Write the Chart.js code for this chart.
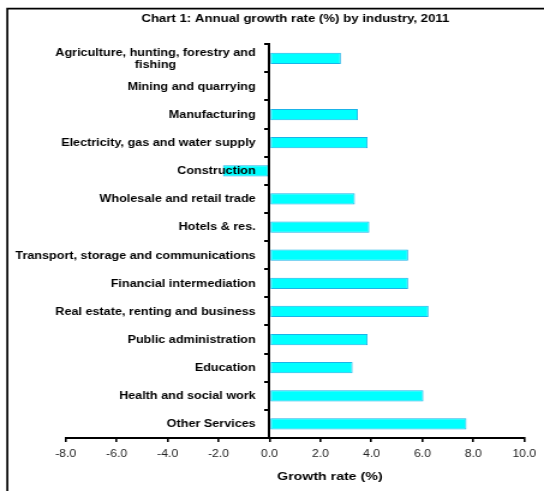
<!DOCTYPE html>
<html>
<head>
<meta charset="utf-8">
<title>Annual growth rate by industry, 2011</title>
<script src="https://cdn.jsdelivr.net/npm/chart.js@4.4.1/dist/chart.umd.min.js"></script>
<style>
  html, body { margin: 0; padding: 0; background: #ffffff; overflow: hidden; }
  #wrap { position: absolute; left: 0; top: 0; width: 544px; height: 491px; overflow: hidden; }
  /* the chart is laid out on a narrower canvas and widened horizontally */
  #chart { position: absolute; left: 0; top: 0; transform-origin: 0 0; transform: scaleX(1.20088); }
</style>
</head>
<body>
<div id="wrap"><canvas id="chart" width="453" height="491"></canvas></div>
<script>
const chartTitle = 'Chart 1: Annual growth rate (%) by industry, 2011';
const axisTitle = 'Growth rate (%)';

const industries = [
  ['Agriculture, hunting, forestry and', 'fishing'],
  'Mining and quarrying',
  'Manufacturing',
  'Electricity, gas and water supply',
  'Construction',
  'Wholesale and retail trade',
  'Hotels & res.',
  'Transport, storage and communications',
  'Financial intermediation',
  'Real estate, renting and business',
  'Public administration',
  'Education',
  'Health and social work',
  'Other Services'
];

const growthRate = [2.8, 0, 3.47, 3.85, -1.83, 3.35, 3.92, 5.44, 5.44, 6.24, 3.85, 3.26, 6.04, 7.73];

const xTickValues = [-8, -6, -4, -2, 0, 2, 4, 6, 8, 10];

const FONT = '"Liberation Sans", Arial, Helvetica, sans-serif';
const LABEL_FONT = { family: FONT, size: 10.5, weight: 'bold', lineHeight: 1.15 };
const LABEL_GAP = 11.5; // space between the zero axis and the right end of the category labels

// outer frame of the chart object (only its top and left edges fall inside the page)
const framePlugin = {
  id: 'frame',
  beforeDraw(chart) {
    const ctx = chart.ctx;
    ctx.save();
    ctx.strokeStyle = '#000';
    ctx.lineWidth = 1.7;
    ctx.beginPath();
    ctx.moveTo(6.1, chart.height + 5);
    ctx.lineTo(6.1, 8.7);
    ctx.lineTo(chart.width + 5, 8.7);
    ctx.stroke();
    ctx.restore();
  }
};

// category labels sit left of the zero axis, above the bars;
// wrapped labels have their lines centred on each other
const categoryLabelPlugin = {
  id: 'categoryLabels',
  afterDatasetsDraw(chart) {
    const yScale = chart.scales.y;
    const xScale = chart.scales.x;
    const font = Chart.helpers.toFont(LABEL_FONT);
    const ctx = chart.ctx;
    const right = xScale.getPixelForValue(0) - LABEL_GAP;
    ctx.save();
    ctx.font = font.string;
    ctx.fillStyle = '#000';
    ctx.textBaseline = 'middle';
    industries.forEach((label, i) => {
      const cy = yScale.getPixelForTick(i) + 0.5;
      if (Array.isArray(label)) {
        const widest = Math.max(...label.map(l => ctx.measureText(l).width));
        ctx.textAlign = 'center';
        label.forEach((l, k) => {
          ctx.fillText(l, right - widest / 2, cy + (k - (label.length - 1) / 2) * font.lineHeight);
        });
      } else {
        ctx.textAlign = 'right';
        ctx.fillText(label, right, cy);
      }
    });
    ctx.restore();
  }
};

// horizontal axis title
const axisTitlePlugin = {
  id: 'axisTitle',
  afterDraw(chart) {
    const xScale = chart.scales.x;
    const ctx = chart.ctx;
    ctx.save();
    ctx.font = 'bold 11.8px ' + FONT;
    ctx.fillStyle = '#000';
    ctx.textAlign = 'center';
    ctx.textBaseline = 'alphabetic';
    ctx.fillText(axisTitle, (xScale.left + xScale.right) / 2 + 29, xScale.top + 41.5);
    ctx.restore();
  }
};

new Chart(document.getElementById('chart'), {
  type: 'bar',
  data: {
    labels: industries,
    datasets: [{
      data: growthRate,
      backgroundColor: '#00FFFF',
      borderColor: '#1AB4E8',
      borderWidth: 1,
      borderSkipped: false,
      categoryPercentage: 1,
      barPercentage: 0.4
    }]
  },
  options: {
    indexAxis: 'y',
    responsive: false,
    animation: false,
    devicePixelRatio: 1,
    layout: { padding: { left: 54.7, right: 15.8, top: 0, bottom: 0 } },
    plugins: {
      legend: { display: false },
      tooltip: { enabled: false },
      title: {
        display: true,
        text: chartTitle,
        color: '#000',
        font: { family: FONT, size: 11, weight: 'bold' },
        padding: { top: 12.4, bottom: 18.6 }
      }
    },
    scales: {
      x: {
        type: 'linear',
        min: xTickValues[0],
        max: xTickValues[xTickValues.length - 1],
        afterBuildTicks: s => { s.ticks = xTickValues.map(v => ({ value: v })); },
        afterFit: s => { s.height = 53; },
        grid: { drawOnChartArea: false, drawTicks: true, tickLength: 4, color: '#000', lineWidth: 1.6 },
        border: { display: true, color: '#000', width: 2 },
        ticks: {
          callback: v => Number(v).toFixed(1),
          font: { family: FONT, size: 10.2 },
          color: '#222',
          padding: 6.5,
          maxRotation: 0,
          autoSkip: false
        }
      },
      y: {
        type: 'category',
        position: { x: 0 },
        offset: true,
        grid: { drawOnChartArea: false, offset: true, tickLength: 3, color: '#000', lineWidth: 2, z: 1 },
        border: { display: true, color: '#000', width: 2, z: 1 },
        ticks: { display: false, autoSkip: false }
      }
    }
  },
  plugins: [framePlugin, categoryLabelPlugin, axisTitlePlugin]
});
</script>
</body>
</html>
